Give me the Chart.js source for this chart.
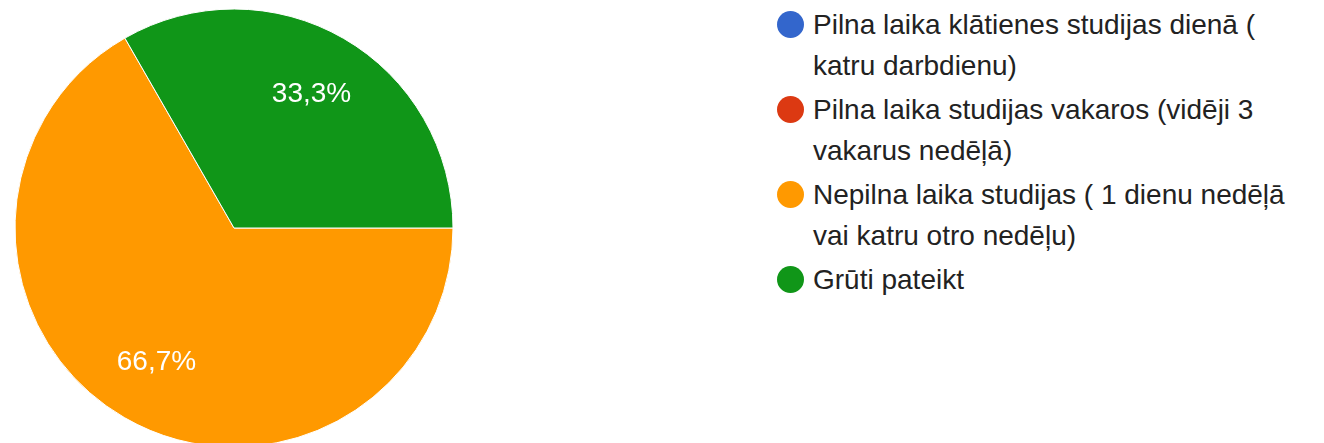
<!DOCTYPE html>
<html>
<head>
<meta charset="utf-8">
<script src="https://cdn.jsdelivr.net/npm/chart.js@4/dist/chart.umd.min.js"></script>
<style>
  html, body { margin: 0; padding: 0; background: #fff; overflow: hidden; }
  #wrap { position: absolute; left: 0; top: 0; width: 470px; height: 460px; }
  #legend { position: absolute; left: 777px; top: 4px; margin: 0; padding: 0; list-style: none;
            font-family: Arial, "Liberation Sans", sans-serif; font-size: 28px; color: #222; }
  #legend li { position: relative; padding-left: 36px; line-height: 41px; margin-bottom: 3px; }
  #legend li span.dot { position: absolute; left: 0; top: 7px; width: 27px; height: 27px; border-radius: 50%; }
</style>
</head>
<body>
<div id="wrap"><canvas id="pie"></canvas></div>
<ul id="legend"></ul>
<script>
// kategorijas (legendas teksts pa rindām, kā attēlā)
const labels = [
    ['Pilna laika klātienes studijas dienā (', 'katru darbdienu)'],
    ['Pilna laika studijas vakaros (vidēji 3', 'vakarus nedēļā)'],
    ['Nepilna laika studijas ( 1 dienu nedēļā', 'vai katru otro nedēļu)'],
    ['Grūti pateikt'],
];
// procenti
const values = [0, 0, 66.7, 33.3];
const colors = ['#3366cc', '#dc3912', '#ff9900', '#109618'];

// procentu uzraksti uz sektoriem
const sliceLabels = {
    id: 'sliceLabels',
    afterDatasetsDraw(chart) {
        const ctx = chart.ctx;
        const data = chart.data.datasets[0].data;
        const total = data.reduce((a, b) => a + b, 0);
        chart.getDatasetMeta(0).data.forEach((arc, i) => {
            if (!data[i]) return;
            const p = arc.getProps(['x', 'y', 'startAngle', 'endAngle', 'outerRadius'], true);
            const mid = (p.startAngle + p.endAngle) / 2;
            const r = p.outerRadius * 0.707;
            const txt = (data[i] / total * 100).toFixed(1).replace('.', ',') + '%';
            ctx.save();
            ctx.fillStyle = '#ffffff';
            ctx.font = '28px Arial, "Liberation Sans", sans-serif';
            ctx.textAlign = 'center';
            ctx.textBaseline = 'middle';
            ctx.fillText(txt, p.x + Math.cos(mid) * r, p.y + Math.sin(mid) * r);
            ctx.restore();
        });
    }
};

new Chart(document.getElementById('pie'), {
    type: 'pie',
    data: {
        labels: labels,
        datasets: [{
            data: values,
            backgroundColor: colors,
            borderColor: '#ffffff',
            borderWidth: 1,
            radius: 219,
        }],
    },
    options: {
        responsive: true,
        maintainAspectRatio: false,
        animation: false,
        rotation: 90,
        layout: { padding: { left: 15, right: 17, top: 9, bottom: 13 } },
        plugins: {
            legend: { display: false },
            tooltip: { enabled: false },
        },
    },
    plugins: [sliceLabels],
});

// legenda
const legendEl = document.getElementById('legend');
labels.forEach((lines, i) => {
    const li = document.createElement('li');
    const dot = document.createElement('span');
    dot.className = 'dot';
    dot.style.background = colors[i];
    li.appendChild(dot);
    lines.forEach((line, j) => {
        if (j > 0) li.appendChild(document.createElement('br'));
        li.appendChild(document.createTextNode(line));
    });
    legendEl.appendChild(li);
});
</script>
</body>
</html>
